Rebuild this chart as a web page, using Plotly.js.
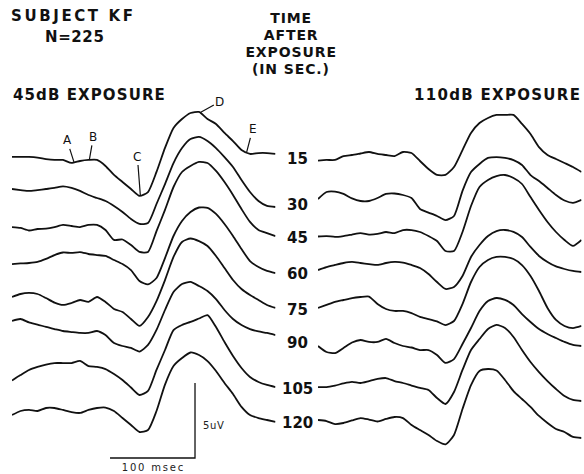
<!DOCTYPE html>
<html><head><meta charset="utf-8">
<script src="https://cdn.plot.ly/plotly-3.0.1.min.js"></script>
<style>html,body{margin:0;padding:0;background:#fff}</style>
</head><body><div id="chart" style="width:584px;height:474px"></div>
<script>
// ---- DATA (time in ms after stimulus onset, amplitude in microvolts, positive up) ----
const TIME_MS = [0,10,20,30,40,50,60,70,80,90,100,110,120,130,140,150,160,170,180,190,200,210,220,230,240,250,260,270,280,290,300,310];
const DELAYS_SEC = ['15','30','45','60','75','90','105','120'];

// 45 dB exposure
const L15  = [0.27,0.27,0.27,0.23,0.13,0.07,0.07,-0.13,0.0,0.07,0.07,-0.33,-0.93,-1.4,-1.87,-2.33,-2.07,-0.73,0.87,2.2,2.8,3.2,3.27,2.8,2.47,1.87,1.33,0.73,0.47,0.53,0.53,0.47];
const L30  = [0.62,0.55,0.49,0.55,0.62,0.69,0.79,0.69,0.49,0.22,0.02,-0.18,-0.51,-0.91,-1.38,-1.71,-1.65,-0.38,0.95,2.35,3.35,3.95,4.09,3.82,3.35,2.75,2.09,1.22,0.42,-0.18,-0.51,-0.58];
const L45  = [0.57,0.51,0.34,0.44,0.47,0.57,0.71,0.64,0.57,0.71,0.71,0.37,-0.29,-0.26,-0.63,-1.09,-1.09,0.3,1.71,3.24,4.24,4.64,4.91,4.84,4.31,3.57,2.71,1.77,0.91,0.37,0.17,-0.03];
const L60  = [0.59,0.63,0.66,0.73,0.93,1.19,1.36,1.33,1.39,1.26,1.19,1.13,0.86,0.59,0.19,-0.54,-0.77,-0.34,0.99,2.46,3.46,4.06,4.36,4.33,3.93,3.26,2.46,1.59,0.79,0.39,0.13,-0.01];
const L75  = [0.88,1.08,1.15,1.08,0.81,0.51,0.35,0.48,0.68,0.55,0.88,0.55,0.08,-0.12,-0.59,-1.05,-0.45,0.61,2.01,3.55,4.55,4.78,4.61,4.28,3.61,2.81,2.01,1.41,1.01,0.68,0.35,0.15];
const L90  = [1.77,1.90,1.67,1.53,1.37,1.23,1.10,1.03,0.97,0.97,1.10,0.83,0.30,0.10,-0.03,-0.27,0.17,1.17,2.50,3.70,4.23,4.37,4.10,3.77,3.23,2.50,1.90,1.50,1.23,1.07,0.97,0.83];
const L105 = [0.29,0.65,0.99,1.19,1.35,1.45,1.45,1.45,1.59,1.25,1.19,1.05,0.72,0.32,-0.18,-0.68,-0.41,0.99,2.32,3.65,3.99,4.19,4.42,4.65,3.85,2.85,1.92,1.12,0.52,0.19,-0.01,-0.15];
const L120 = [0.47,0.74,0.81,0.74,0.94,0.94,0.81,0.67,0.61,0.81,0.94,0.97,0.74,0.27,-0.19,-0.66,-0.53,0.74,2.5,3.74,4.27,4.64,4.47,4.07,3.41,2.61,1.87,1.01,0.47,0.27,0.14,0.01];

// 110 dB exposure
const R15  = [0.03,0.07,0.07,0.33,0.40,0.50,0.60,0.47,0.40,0.33,0.60,0.53,0.00,-0.53,-0.93,-0.93,-0.40,0.73,1.87,2.53,2.87,3.07,3.07,3.07,2.47,1.80,0.93,0.40,0.13,-0.13,-0.40,-0.73];
const R30  = [-0.05,0.42,0.45,0.29,-0.01,-0.18,-0.18,0.02,0.29,0.32,0.22,0.02,-0.71,-0.95,-1.18,-1.45,-1.18,0.5,1.75,2.29,2.69,2.75,2.69,2.55,2.22,1.55,1.15,0.69,0.22,-0.15,-0.31,-0.11];
const R45  = [-0.06,-0.03,-0.09,-0.03,0.07,0.17,0.07,0.11,0.24,0.17,0.37,0.37,0.24,-0.03,-0.36,-1.03,-1.03,0.24,1.97,3.24,3.71,3.97,4.04,3.84,3.44,2.57,1.71,0.91,0.24,-0.29,-0.69,-0.29];
const R60  = [0.19,0.39,0.53,0.66,0.73,0.66,0.59,0.53,0.66,0.73,0.69,0.53,0.33,-0.07,-0.61,-1.07,-0.94,-0.21,1.06,1.86,2.46,2.79,2.86,2.73,2.39,1.73,1.13,0.73,0.43,0.26,0.13,0.06];
const R75  = [0.15,0.35,0.55,0.68,0.81,0.88,0.91,0.41,0.08,-0.05,-0.05,-0.19,-0.45,-0.59,-0.75,-0.99,-0.72,0.41,1.88,2.88,3.35,3.55,3.55,3.41,3.01,2.28,1.28,0.15,-0.65,-1.05,-1.19,-1.05];
const R90  = [0.10,-0.30,-0.37,-0.03,0.33,0.50,0.37,0.37,0.57,0.30,0.10,0.00,-0.17,-0.17,-0.50,-1.03,-0.77,0.23,1.30,2.43,3.10,3.30,3.17,2.83,2.23,1.70,1.23,0.90,0.63,0.37,0.17,0.10];
const R105 = [-0.15,-0.15,-0.05,0.09,0.19,0.12,0.25,0.39,0.45,0.25,0.12,-0.05,-0.21,-0.35,-0.88,-1.28,-0.48,0.99,2.32,3.05,3.72,3.99,3.79,3.19,2.32,1.52,0.85,0.25,-0.28,-0.75,-1.01,-1.08];
const R120 = [0.14,0.07,-0.13,-0.06,0.11,0.27,0.17,0.04,0.21,0.34,0.27,-0.19,-0.53,-0.86,-1.26,-1.49,-0.86,0.87,2.47,3.41,3.54,3.44,2.81,2.07,1.54,1.01,0.41,-0.06,-0.46,-0.66,-0.99,-1.06];

const LEFT_45DB  = [L15, L30, L45, L60, L75, L90, L105, L120];
const RIGHT_110DB = [R15, R30, R45, R60, R75, R90, R105, R120];

// component markers on the 15 s, 45 dB trace (ms)
const PEAK_NAMES = ['A','B','C','D','E'];
const PEAK_TIMES = [73, 91, 151, 221, 276];

// calibration
const SCALE_MS = 100;
const SCALE_UV = 5;

// ---- LAYOUT CONSTANTS ----
const W = 584, H = 474;
const UV_PER_PX = 1/15;
const ROW0 = -161*UV_PER_PX, ROW_GAP = 37.3*UV_PER_PX;
const rowBase = i => ROW0 - i*ROW_GAP;
const LINE = {color:'#111', width:1.8, shape:'spline', smoothing:0.6};

function interp(xs, ys, t){
  for (let k=0;k<xs.length-1;k++){
    if (t>=xs[k] && t<=xs[k+1]){ const f=(t-xs[k])/(xs[k+1]-xs[k]); return ys[k]+f*(ys[k+1]-ys[k]); }
  }
  return ys[ys.length-1];
}

const traces = [];
LEFT_45DB.forEach((vals,i)=>traces.push({x:TIME_MS, y:vals.map(v=>v+rowBase(i)), xaxis:'x', yaxis:'y', mode:'lines', line:LINE, hoverinfo:'skip'}));
RIGHT_110DB.forEach((vals,i)=>traces.push({x:TIME_MS, y:vals.map(v=>v+rowBase(i)), xaxis:'x2', yaxis:'y', mode:'lines', line:LINE, hoverinfo:'skip'}));

// calibration bars
const SB_T0 = 115.3, SB_Y0 = -458*UV_PER_PX;
traces.push({x:[SB_T0, SB_T0+SCALE_MS, SB_T0+SCALE_MS], y:[SB_Y0, SB_Y0, SB_Y0+SCALE_UV], xaxis:'x', yaxis:'y', mode:'lines', line:{color:'#111', width:1.3}, hoverinfo:'skip'});

const px = x => x/W, py = y => 1 - y/H;
const BOLD = {family:'DejaVu Sans, Verdana, sans-serif', size:15, color:'#111', weight:700};
const annotations = [];
const spacing = [];
function addText(text, x, y, opts, ls){
  annotations.push(Object.assign({text, x:px(x), y:py(y), xref:'paper', yref:'paper', showarrow:false, xanchor:'left', align:'left', yanchor:'middle', font:BOLD}, opts||{}));
  spacing.push(ls||0);
}
addText('SUBJECT KF', 9, 16, {}, 2.6);
addText('N=225', 43, 37, {}, 0.6);
['TIME','AFTER','EXPOSURE','(IN SEC.)'].forEach((s,k)=>addText(s, 291, [18,35,52,69][k], {xanchor:'center', align:'center', font:Object.assign({},BOLD,{size:14})}, 0.9));
addText('45dB EXPOSURE', 11, 95, {}, 1.1);
addText('110dB EXPOSURE', 412, 95, {}, 1.3);
addText('5uV', 201, 425, {font:{family:'DejaVu Sans, sans-serif', size:10, color:'#222'}}, 0.6);
addText('100 msec', 153, 467, {xanchor:'center', align:'center', font:{family:'DejaVu Sans, sans-serif', size:10, color:'#222'}}, 1.8);

// delay labels between the panels
DELAYS_SEC.forEach((d,i)=>{
  const yl = (LEFT_45DB[i][LEFT_45DB[i].length-1] + RIGHT_110DB[i][0])/2 + rowBase(i) - 2*UV_PER_PX;
  annotations.push({text:d, x:px(297), y:yl, xref:'paper', yref:'y', showarrow:false, xanchor:'center', yanchor:'middle', font:BOLD});
  spacing.push(0);
});

// component markers
const OFFS = [[-7,-22],[4,-23],[-3,-39],[20,-11],[6,-23]];
PEAK_NAMES.forEach((n,k)=>{
  const t = PEAK_TIMES[k];
  annotations.push({text:n, x:t, y:interp(TIME_MS, L15, t)+rowBase(0), xref:'x', yref:'y', showarrow:true, arrowhead:0, arrowwidth:1.2, arrowcolor:'#111', standoff:0, ax:OFFS[k][0], ay:OFFS[k][1], font:{family:'DejaVu Sans, sans-serif', size:12, color:'#111'}});
  spacing.push(0);
});

const layout = {
  width:W, height:H, margin:{l:0,r:0,t:0,b:0,pad:0},
  paper_bgcolor:'#fff', plot_bgcolor:'#fff', showlegend:false,
  xaxis:{domain:[12/W, 275.5/W], range:[0,310], visible:false, fixedrange:true},
  xaxis2:{domain:[318/W, 581.5/W], range:[0,310], visible:false, fixedrange:true},
  yaxis:{domain:[0,1], range:[-H*UV_PER_PX, 0], visible:false, fixedrange:true},
  annotations
};

function applySpacing(){
  document.querySelectorAll('#chart .annotation').forEach(g=>{
    const i = +g.getAttribute('data-index');
    const t = g.querySelector('text');
    if (t && spacing[i]) t.style.letterSpacing = spacing[i]+'px';
  });
}
const gd = document.getElementById('chart');
Plotly.newPlot(gd, traces, layout, {staticPlot:true, displayModeBar:false}).then(()=>{
  applySpacing();
  gd.on && gd.on('plotly_afterplot', applySpacing);
});
</script></body></html>
